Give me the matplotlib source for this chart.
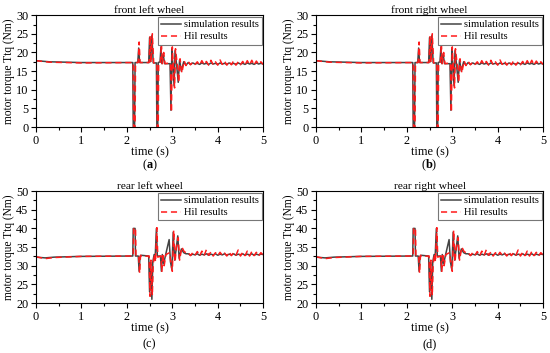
import matplotlib
matplotlib.use('Agg')
import matplotlib.pyplot as plt
from matplotlib.ticker import MultipleLocator

plt.rcParams['font.family'] = ['Liberation Serif', 'DejaVu Serif']
plt.rcParams['mathtext.fontset'] = 'custom'
plt.rcParams['mathtext.rm'] = 'Liberation Serif'
plt.rcParams['mathtext.bf'] = 'Liberation Serif:bold'

# ---- front wheels (same profile left / right) ----
front_sim_t = [0.0, 0.3, 1.0, 2.13, 2.14, 2.17, 2.18, 2.24, 2.26, 2.28, 2.48, 2.50, 2.52,
               2.55, 2.58, 2.65, 2.66, 2.68, 2.69, 2.73, 2.75, 2.77, 2.80, 2.83, 2.95,
               2.97, 2.99, 3.01, 3.04, 3.06, 3.10, 3.13, 3.16, 3.20, 3.25, 3.30]
front_sim_v = [17.8, 17.5, 17.3, 17.3, 0.0, 0.0, 17.3, 17.3, 21.2, 17.3, 17.3, 24.0, 17.5,
               24.5, 17.2, 17.2, 0.0, 0.0, 17.3, 17.5, 21.5, 17.0, 19.5, 17.0, 17.0,
               4.5, 21.0, 17.0, 11.0, 20.5, 16.0, 12.0, 18.0, 15.0, 17.5, 16.6]
front_hil_t = [0.0, 0.3, 1.0, 2.14, 2.15, 2.18, 2.19, 2.25, 2.27, 2.29, 2.49, 2.51, 2.53,
               2.56, 2.59, 2.66, 2.67, 2.69, 2.70, 2.74, 2.76, 2.78, 2.81, 2.84, 2.96,
               2.98, 3.00, 3.02, 3.05, 3.07, 3.11, 3.14, 3.17, 3.21, 3.26, 3.30]
front_hil_v = [17.8, 17.4, 17.2, 17.3, 0.0, 0.0, 17.3, 17.3, 22.8, 17.3, 17.3, 24.5, 17.3,
               25.0, 17.2, 17.2, 0.0, 0.0, 17.3, 17.4, 22.5, 17.0, 20.0, 17.0, 17.2,
               4.0, 21.5, 16.5, 10.5, 21.0, 16.5, 12.0, 18.3, 14.5, 17.8, 16.5]
# steady noisy part after 3.3 s
tail_t = [3.35, 3.40, 3.45, 3.50, 3.55, 3.60, 3.65, 3.70, 3.75, 3.80, 3.85, 3.90, 3.95,
          4.00, 4.05, 4.10, 4.15, 4.20, 4.25, 4.30, 4.35, 4.40, 4.45, 4.50, 4.55, 4.60,
          4.65, 4.70, 4.75, 4.80, 4.85, 4.90, 4.95, 5.00]
front_sim_tail = [17.3, 16.8, 17.2, 16.9, 17.1, 16.8, 17.2, 16.9, 17.1, 16.8, 17.2, 16.9,
                  17.1, 16.8, 17.2, 16.9, 17.1, 16.8, 17.2, 16.9, 17.1, 16.8, 17.2, 16.9,
                  17.1, 16.8, 17.2, 16.9, 17.1, 16.8, 17.2, 16.9, 17.1, 16.9]
front_hil_tail = [17.6, 16.7, 17.4, 16.8, 17.5, 16.6, 17.8, 16.7, 17.6, 16.6, 17.9, 16.7,
                  17.5, 16.6, 18.0, 16.8, 17.7, 16.6, 17.6, 16.7, 17.8, 16.6, 17.5, 16.7,
                  17.6, 16.6, 17.8, 16.7, 17.9, 16.6, 17.7, 16.8, 17.5, 16.8]

# ---- rear wheels (same profile left / right) ----
rear_sim_t = [0.0, 0.2, 0.4, 1.0, 2.13, 2.14, 2.18, 2.19, 2.25, 2.27, 2.29, 2.31, 2.48,
              2.50, 2.52, 2.55, 2.57, 2.60, 2.62, 2.65, 2.67, 2.74, 2.76, 2.78, 2.81,
              2.85, 2.93, 2.96, 2.99, 3.02, 3.05, 3.08, 3.12, 3.15, 3.20, 3.25, 3.30]
rear_sim_v = [32.3, 32.1, 32.3, 32.5, 32.6, 40.0, 40.0, 32.6, 32.6, 28.5, 32.5, 32.8, 32.6,
              23.0, 31.0, 21.0, 31.0, 33.0, 31.5, 40.0, 32.6, 32.6, 28.5, 33.0, 30.5,
              32.8, 37.0, 31.0, 29.0, 39.0, 31.5, 34.0, 38.0, 32.0, 34.5, 33.5, 33.2]
rear_hil_t = [0.0, 0.2, 0.4, 1.0, 2.14, 2.15, 2.19, 2.20, 2.26, 2.28, 2.30, 2.32, 2.49,
              2.51, 2.53, 2.56, 2.58, 2.61, 2.63, 2.66, 2.68, 2.75, 2.77, 2.79, 2.82,
              2.86, 2.94, 2.97, 3.00, 3.03, 3.06, 3.09, 3.13, 3.16, 3.21, 3.26, 3.30]
rear_hil_v = [32.4, 31.9, 32.2, 32.5, 32.6, 40.2, 40.0, 32.6, 32.6, 28.0, 32.8, 32.5, 32.6,
              21.8, 31.5, 22.0, 30.5, 33.2, 31.0, 40.2, 32.3, 32.6, 28.5, 33.3, 30.0,
              33.0, 33.5, 30.5, 28.5, 39.5, 31.0, 35.0, 37.5, 31.5, 35.0, 33.8, 33.5]
rear_sim_tail = [33.2, 32.8, 33.1, 32.9, 33.2, 32.8, 33.1, 32.9, 33.2, 32.8, 33.1, 32.9,
                 33.2, 32.8, 33.1, 32.9, 33.2, 32.8, 33.1, 32.9, 33.2, 32.8, 33.1, 32.9,
                 33.2, 32.8, 33.1, 32.9, 33.2, 32.8, 33.1, 32.9, 33.1, 33.0]
rear_hil_tail = [33.6, 32.7, 33.5, 32.8, 33.8, 32.6, 33.9, 32.7, 34.3, 32.8, 33.7, 32.6,
                 33.5, 32.7, 33.6, 32.8, 33.4, 32.6, 33.7, 32.7, 33.5, 32.8, 34.2, 32.6,
                 33.6, 32.7, 33.9, 32.6, 33.8, 32.7, 33.6, 32.6, 33.5, 32.8]

panels = [
    ('front left wheel', r'($\mathbf{a}$)', front_sim_t, front_sim_v, front_hil_t, front_hil_v,
     front_sim_tail, front_hil_tail, (0, 30), [0.0655, 0.640, 0.413, 0.317], -0.34),
    ('front right wheel', r'($\mathbf{b}$)', front_sim_t, front_sim_v, front_hil_t, front_hil_v,
     front_sim_tail, front_hil_tail, (0, 30), [0.5745, 0.640, 0.413, 0.317], -0.34),
    ('rear left wheel', '(c)', rear_sim_t, rear_sim_v, rear_hil_t, rear_hil_v,
     rear_sim_tail, rear_hil_tail, (20, 50), [0.0655, 0.1416, 0.413, 0.317], -0.37),
    ('rear right wheel', '(d)', rear_sim_t, rear_sim_v, rear_hil_t, rear_hil_v,
     rear_sim_tail, rear_hil_tail, (20, 50), [0.5745, 0.1416, 0.413, 0.317], -0.37),
]

fig = plt.figure(figsize=(5.5, 3.53), dpi=100)

for title, tag, st, sv, ht, hv, stail, htail, ylim, rect, tag_y in panels:
    ax = fig.add_axes(rect)
    ax.plot(st + tail_t, sv + stail, color='#444444', lw=1.1, label='simulation results')
    ax.plot(ht + tail_t, hv + htail, color='#ff1a1a', lw=1.1, ls=(0, (4, 2.5)),
            label='Hil results')
    ax.set_xlim(0, 5)
    ax.set_ylim(*ylim)
    ax.xaxis.set_major_locator(MultipleLocator(1))
    ax.xaxis.set_minor_locator(MultipleLocator(0.5))
    ax.yaxis.set_major_locator(MultipleLocator(5))
    ax.yaxis.set_minor_locator(MultipleLocator(2.5))
    ax.tick_params(which='major', length=3.5, width=0.8, labelsize=8.8, pad=2)
    ax.tick_params(which='minor', length=2, width=0.8)
    ax.set_title(title, fontsize=8.2, pad=1.5)
    ax.set_xlabel('time (s)', fontsize=8.8, labelpad=0)
    ax.set_ylabel('motor torque Ttq (Nm)', fontsize=8.3, labelpad=1)
    leg = ax.legend(loc='upper right', fontsize=7.6, handlelength=1.9, borderaxespad=0.15,
                    fancybox=False, framealpha=1, labelspacing=0.25, borderpad=0.3,
                    handletextpad=0.2)
    leg.get_frame().set_edgecolor('#777777')
    leg.get_frame().set_linewidth(0.8)
    ax.text(0.5, tag_y, tag, transform=ax.transAxes, ha='center', va='center', fontsize=8.8)

fig.savefig('out.png', dpi=100, facecolor='white')
